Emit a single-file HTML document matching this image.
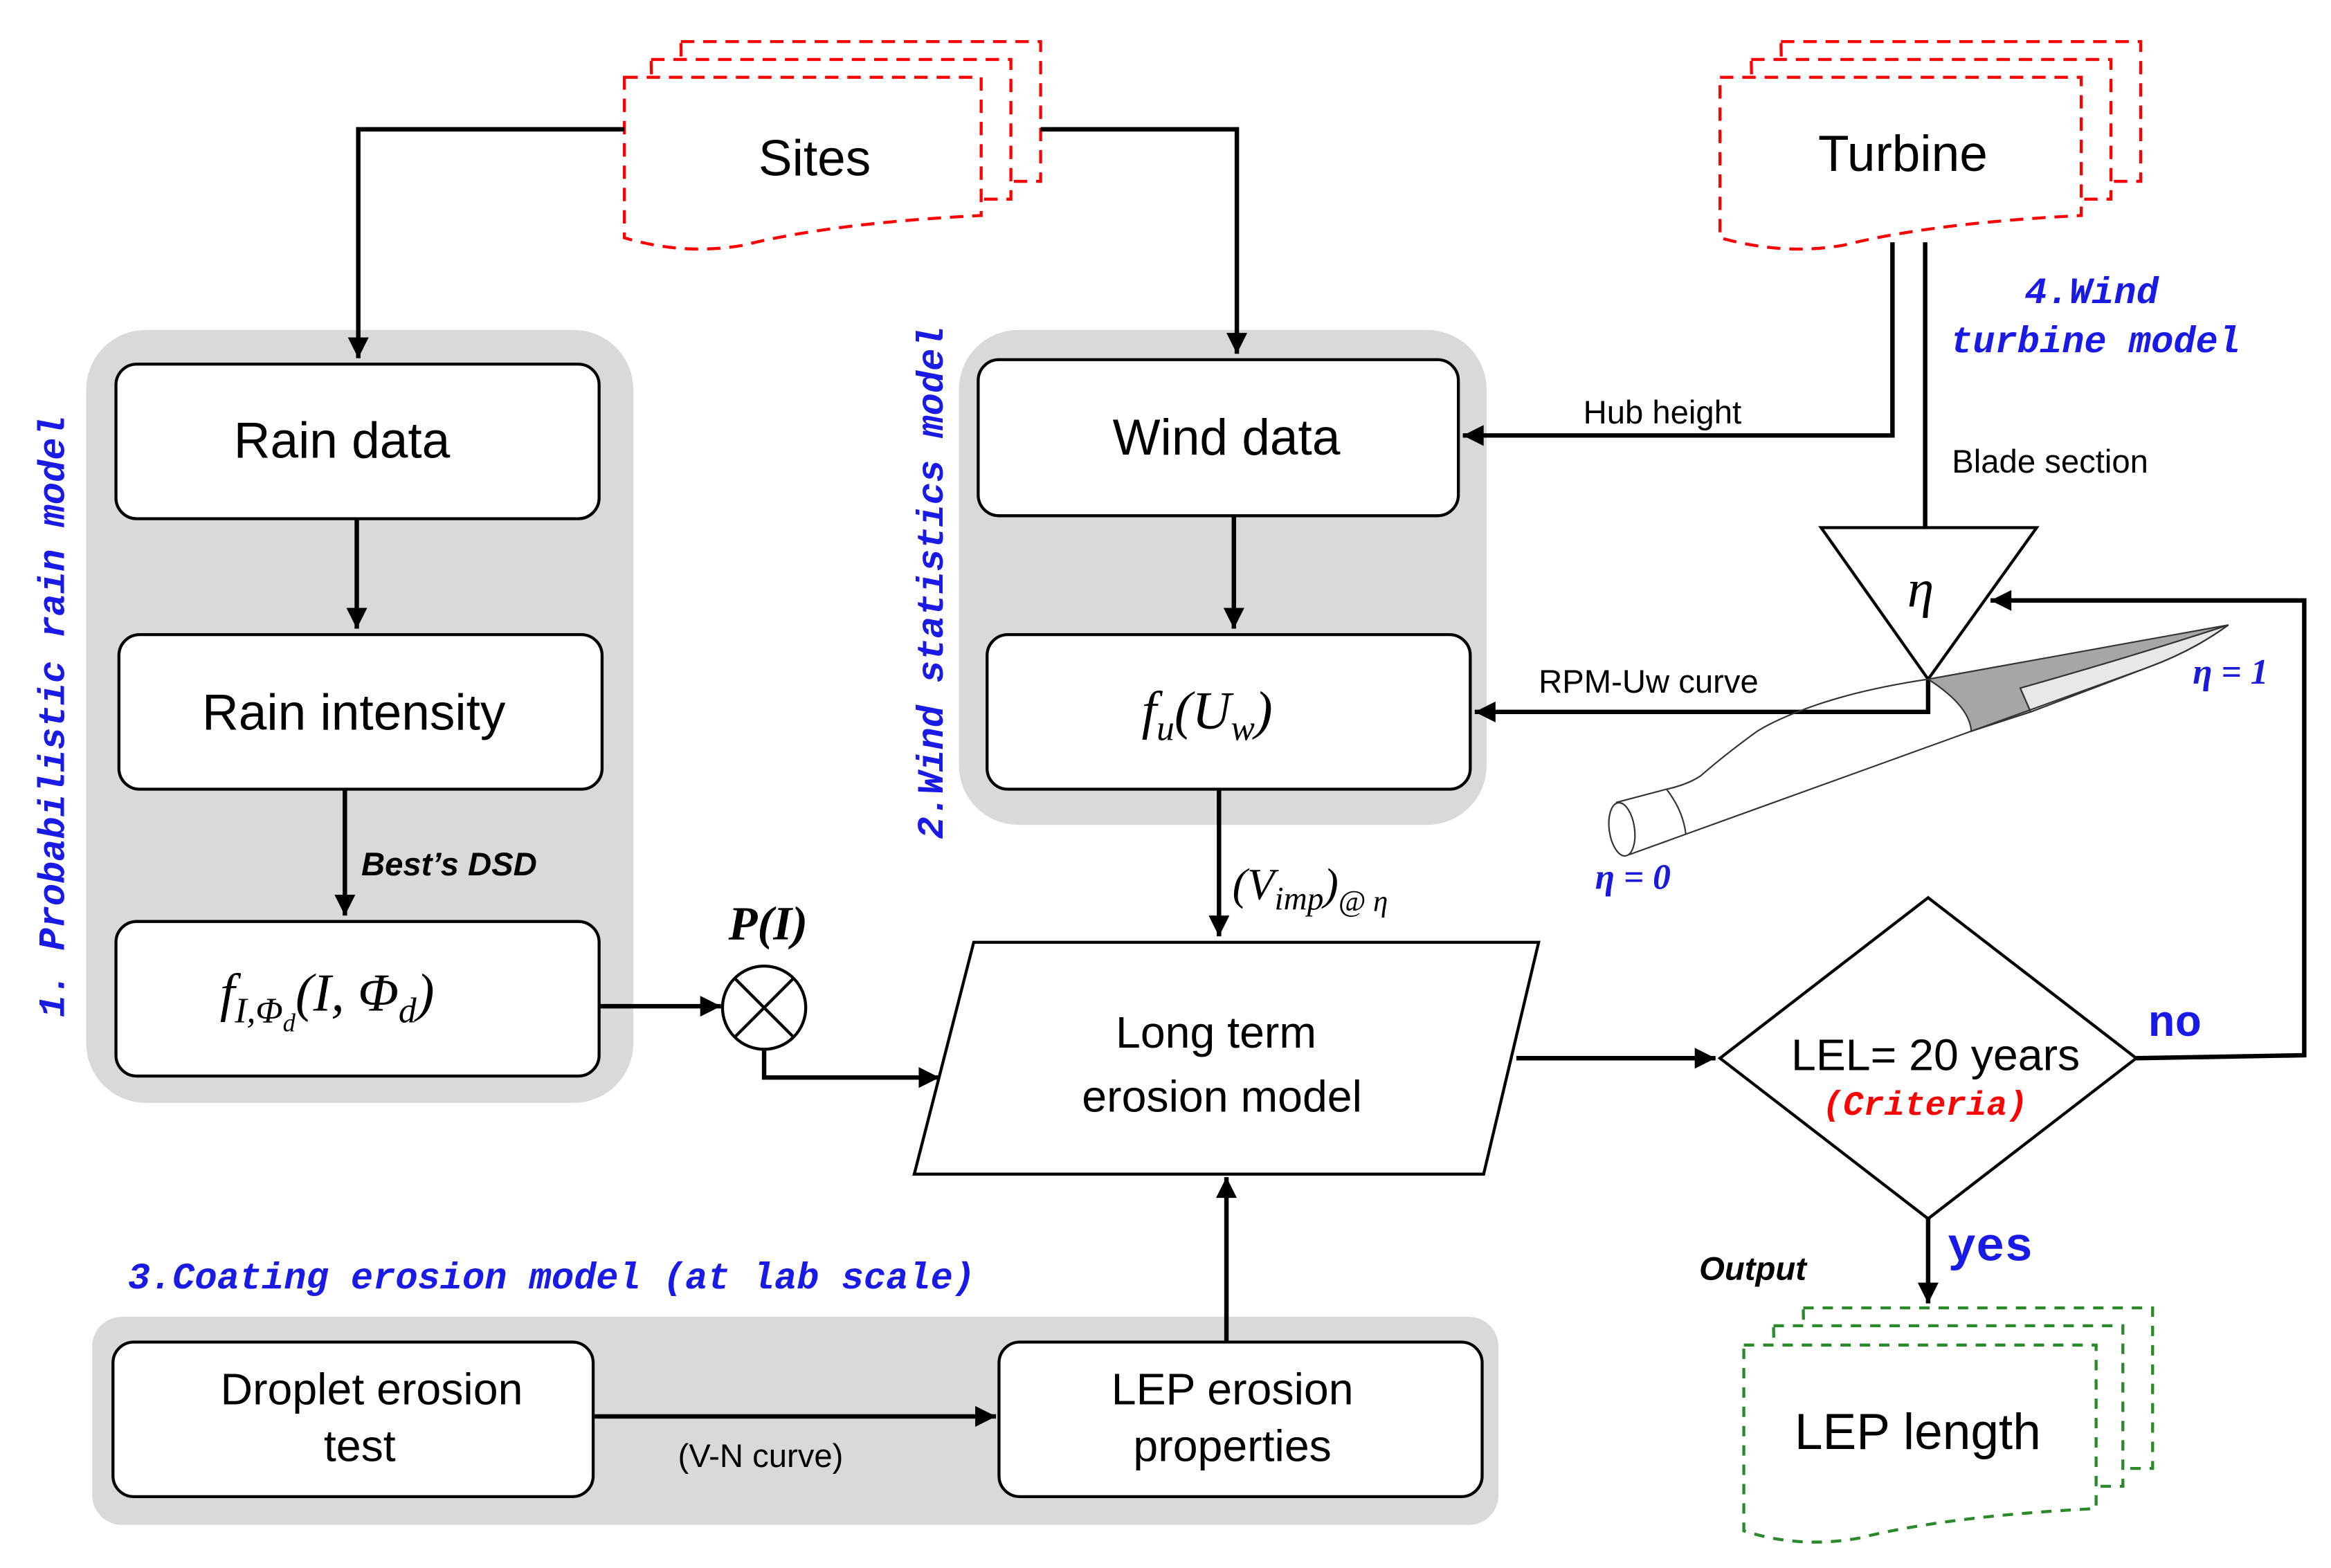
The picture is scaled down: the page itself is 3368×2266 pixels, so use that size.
<!DOCTYPE html>
<html><head><meta charset="utf-8"><style>html,body{margin:0;padding:0;background:#fff}svg{display:block}</style></head>
<body>
<svg width="3368" height="2266" viewBox="0 0 1568 1055" preserveAspectRatio="none" xmlns="http://www.w3.org/2000/svg">
<defs>
<marker id="b" viewBox="0 0 10 10" markerWidth="16" markerHeight="14" refX="10" refY="5" orient="auto" markerUnits="userSpaceOnUse"><path d="M0,0 L10,5 L0,10 Z" fill="#000"/></marker>
</defs>
<g font-family="Liberation Sans, sans-serif">
<rect x="58" y="222" width="368" height="520" rx="40" fill="#d9d9d9"/>
<rect x="645" y="222" width="355" height="333" rx="40" fill="#d9d9d9"/>
<rect x="62" y="886" width="946" height="140" rx="20" fill="#d9d9d9"/>

<g fill="#fff" stroke="#f00" stroke-width="2" stroke-dasharray="9,6">
<path d="M458,28 H700 V122 H460 Z"/>
<path d="M438,40 H680 V134 H440 Z"/>
<path d="M420,52 H660 V145 Q560,150 500,165 Q460,172 420,160 Z"/>
<path d="M1198,28 H1440 V122 H1200 Z"/>
<path d="M1178,40 H1420 V134 H1180 Z"/>
<path d="M1157,52 H1400 V145 Q1300,150 1240,165 Q1200,172 1157,160 Z"/>
</g>
<g fill="#fff" stroke="#2a8a2a" stroke-width="2" stroke-dasharray="7,6">
<path d="M1213,880 H1448 V988 H1215 Z"/>
<path d="M1193,892 H1428 V1000 H1195 Z"/>
<path d="M1173,905 H1410 V1015 Q1310,1020 1250,1035 Q1210,1042 1173,1030 Z"/>
</g>
<text x="548" y="118" font-size="34" text-anchor="middle">Sites</text>
<text x="1280" y="115" font-size="34" text-anchor="middle">Turbine</text>
<text x="1290" y="975" font-size="34" text-anchor="middle">LEP length</text>

<g fill="#fff" stroke="#000" stroke-width="2">
<rect x="78" y="245" width="325" height="104" rx="14"/>
<rect x="80" y="427" width="325" height="104" rx="14"/>
<rect x="78" y="620" width="325" height="104" rx="14"/>
<rect x="658" y="242" width="323" height="105" rx="14"/>
<rect x="664" y="427" width="325" height="104" rx="14"/>
<rect x="76" y="903" width="323" height="104" rx="14"/>
<rect x="672" y="903" width="325" height="104" rx="14"/>
<polygon points="655,634 1035,634 998,790 615,790"/>
<polygon points="1297,604 1437,712 1297,820 1157,712"/>
<polygon points="1225,355 1370,355 1297,457"/>
<circle cx="514" cy="678" r="28"/>
<line x1="494" y1="658" x2="534" y2="698"/><line x1="534" y1="658" x2="494" y2="698"/>
</g>
<g font-size="34" text-anchor="middle">
<text x="230" y="308">Rain data</text>
<text x="238" y="491">Rain intensity</text>
<text x="825" y="306">Wind data</text>
<text x="818" y="705" font-size="30">Long term</text>
<text x="822" y="748" font-size="30">erosion model</text>
<text x="250" y="945" font-size="30">Droplet erosion</text>
<text x="242" y="983" font-size="30">test</text>
<text x="829" y="945" font-size="30">LEP erosion</text>
<text x="829" y="983" font-size="30">properties</text>
<text x="1302" y="720" font-size="30">LEL= 20 years</text>
</g>
<g font-family="Liberation Serif, serif" font-style="italic" font-size="36">
<text x="148" y="680">f<tspan font-size="24" dy="8">I,Φ</tspan><tspan font-size="17" dy="6">d</tspan><tspan dy="-14">(I, Φ</tspan><tspan font-size="24" dy="8">d</tspan><tspan dy="-8">)</tspan></text>
<text x="768" y="490">f<tspan font-size="24" dy="8">u</tspan><tspan dy="-8">(U</tspan><tspan font-size="24" dy="8">w</tspan><tspan dy="-8">)</tspan></text>
<text x="829" y="605" font-size="30">(V<tspan font-size="22" dy="7">imp</tspan><tspan dy="-7">)</tspan><tspan font-size="20" dy="8">@ η</tspan></text>
<text x="490" y="632" font-size="32" font-weight="bold">P(I)</text>
<text x="1283" y="408">η</text>
</g>

<g fill="none" stroke="#000" stroke-width="3">
<polyline points="420,87 241,87 241,241" marker-end="url(#b)"/>
<polyline points="700,87 832,87 832,238" marker-end="url(#b)"/>
<line x1="240" y1="349" x2="240" y2="423" marker-end="url(#b)"/>
<line x1="232" y1="531" x2="232" y2="616" marker-end="url(#b)"/>
<line x1="830" y1="347" x2="830" y2="423" marker-end="url(#b)"/>
<line x1="820" y1="531" x2="820" y2="630" marker-end="url(#b)"/>
<line x1="403" y1="677" x2="485" y2="677" marker-end="url(#b)"/>
<polyline points="514,706 514,725 632,725" marker-end="url(#b)"/>
<line x1="825" y1="903" x2="825" y2="792" marker-end="url(#b)"/>
<line x1="400" y1="953" x2="670" y2="953" marker-end="url(#b)"/>
<line x1="1020" y1="712" x2="1154" y2="712" marker-end="url(#b)"/>
<polyline points="1437,712 1550,710 1550,404 1339,404" marker-end="url(#b)"/>
<line x1="1297" y1="820" x2="1297" y2="877" marker-end="url(#b)"/>
<polyline points="1273,163 1273,293 984,293" marker-end="url(#b)"/>
<line x1="1295" y1="163" x2="1295" y2="355"/>
<polyline points="1297,457 1297,479 992,479" marker-end="url(#b)"/>
</g>

<!-- blade -->
<g stroke="#333" stroke-width="1">
<path d="M1297,457 L1499,420.5 Q1440,440 1359,463 L1366,479 L1326,492 Q1325,475 1297,457 Z" fill="#a6a6a6"/>
<path d="M1499,420.5 Q1475,438 1445,449 L1366,479 L1359,463 Q1440,440 1499,420.5 Z" fill="#e8e8e8"/>
<path d="M1297,457 Q1250,464 1217,476 Q1195,484 1182,492 Q1160,508 1144,522 Q1135,528 1121,531 L1087,540" fill="none"/>
<path d="M1499,420.5 Q1475,438 1445,449 L1096,575" fill="none"/>
<path d="M1121,531 Q1132,545 1134,561" fill="none"/>
<ellipse cx="1091" cy="558" rx="8.5" ry="18" transform="rotate(-8 1091 558)" fill="#fff"/>
</g>

<g font-size="22">
<text x="1065" y="285">Hub height</text>
<text x="1313" y="318">Blade section</text>
<text x="1035" y="466">RPM-Uw curve</text>
<text x="456" y="987">(V-N curve)</text>
</g>
<text x="243" y="589" font-size="22" font-weight="bold" font-style="italic">Best’s DSD</text>
<text x="1143" y="861" font-size="22" font-weight="bold" font-style="italic">Output</text>
<g font-family="Liberation Serif, serif" font-style="italic" font-weight="bold" fill="#1a1ad8" font-size="24">
<text x="1475" y="460">η = 1</text>
<text x="1073" y="598">η = 0</text>
</g>
<g font-family="Liberation Mono, monospace" font-weight="bold" font-style="italic" fill="#1a1ae6" font-size="25">
<text x="1362" y="204">4.Wind</text>
<text x="1312" y="237">turbine model</text>
<text x="86" y="867">3.Coating erosion model (at lab scale)</text>
<text transform="translate(43,482) rotate(-90)" text-anchor="middle">1. Probabilistic rain model</text>
<text transform="translate(634,392) rotate(-90)" text-anchor="middle">2.Wind statistics model</text>
<text x="1295" y="750" text-anchor="middle" fill="#f00" font-size="23">(Criteria)</text>
</g>
<g font-family="Liberation Mono, monospace" font-weight="bold" fill="#1a1ae6">
<text x="1445" y="697" font-size="30">no</text>
<text x="1310" y="848" font-size="32">yes</text>
</g>
</g>
</svg>
</body></html>
